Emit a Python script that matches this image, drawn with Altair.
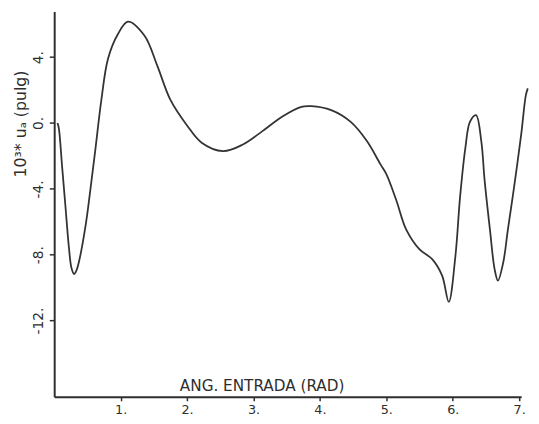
import altair as alt
import pandas as pd

# Curve (x in rad, y in 10^3 * u_A)
x_vals = [0.05, 0.07, 0.12, 0.17, 0.22, 0.26, 0.30, 0.33, 0.37, 0.47, 0.54, 0.62, 0.71,
          0.81, 0.96, 1.11, 1.36, 1.55, 1.75, 2.00, 2.22, 2.54, 2.84, 3.13,
          3.43, 3.72, 3.87, 4.17, 4.46, 4.71, 4.91, 5.00, 5.15, 5.30, 5.50, 5.69, 5.84,
          5.94, 6.04, 6.11, 6.19, 6.26, 6.35, 6.43, 6.48, 6.56, 6.63, 6.68, 6.76, 6.83,
          6.93, 7.03, 7.10, 7.13]
y_vals = [0.0, -0.33, -2.7, -5.1, -7.5, -8.8, -9.17, -9.0, -8.47, -6.29, -4.2, -1.6, 1.4,
          3.9, 5.4, 6.16, 5.3, 3.5, 1.4, -0.15, -1.2, -1.71, -1.31, -0.51,
          0.38, 0.98, 1.02, 0.78, 0.08, -1.11, -2.5, -3.1, -4.69, -6.48, -7.68, -8.27, -9.27,
          -10.86, -8.08, -4.5, -1.51, 0.08, 0.48, -1.11, -3.5, -6.48, -8.87, -9.57, -8.47, -6.48,
          -3.7, -0.71, 1.68, 2.1]

x_ticks = [1, 2, 3, 4, 5, 6, 7]
y_ticks = [4, 0, -4, -8, -12]

df = pd.DataFrame({"x": x_vals, "y": y_vals})

FONT = "DejaVu Sans"
INK = "#2e2e2e"

chart = (
    alt.Chart(df)
    .mark_line(color="#333333", strokeWidth=1.8, interpolate="catmull-rom", clip=False)
    .encode(
        x=alt.X(
            "x:Q",
            scale=alt.Scale(domain=[0, 7.03], nice=False, zero=False),
            axis=alt.Axis(
                values=x_ticks,
                labelExpr="datum.value + '.'",
                grid=False,
                domainColor=INK,
                domainWidth=2,
                tickColor=INK,
                tickWidth=1.5,
                tickSize=4,
                labelPadding=3,
                labelFont=FONT,
                labelFontSize=13,
                labelColor=INK,
                title="ANG. ENTRADA (RAD)",
                titleFont=FONT,
                titleFontSize=15.5,
                titleFontWeight="normal",
                titleColor=INK,
                titleX=211,
                titleY=-6,
                titleAlign="center",
                titleBaseline="alphabetic",
            ),
        ),
        y=alt.Y(
            "y:Q",
            scale=alt.Scale(domain=[-16.63, 6.77], nice=False, zero=False),
            axis=alt.Axis(
                values=y_ticks,
                labelExpr="datum.value + '.'",
                grid=False,
                domainColor=INK,
                domainWidth=2,
                tickColor=INK,
                tickWidth=1.5,
                tickSize=5,
                labelAngle=270,
                labelAlign="center",
                labelBaseline="alphabetic",
                labelPadding=7,
                labelFont=FONT,
                labelFontSize=14,
                labelColor=INK,
                title="10³* uₐ (pulg)",
                titleFont=FONT,
                titleFontSize=16,
                titleFontWeight="normal",
                titleColor=INK,
                titleAngle=270,
                titleX=-34,
                titleY=114,
                titleAlign="center",
                titleBaseline="middle",
            ),
        ),
    )
    .properties(
        width=475,
        height=392,
        autosize=alt.AutoSizeParams(type="none"),
        padding={"left": 47, "top": 0, "right": 10, "bottom": 20},
        background="white",
    )
    .configure_view(stroke=None)
)

chart.save("out.html", embed_options={"renderer": "svg", "actions": False})
